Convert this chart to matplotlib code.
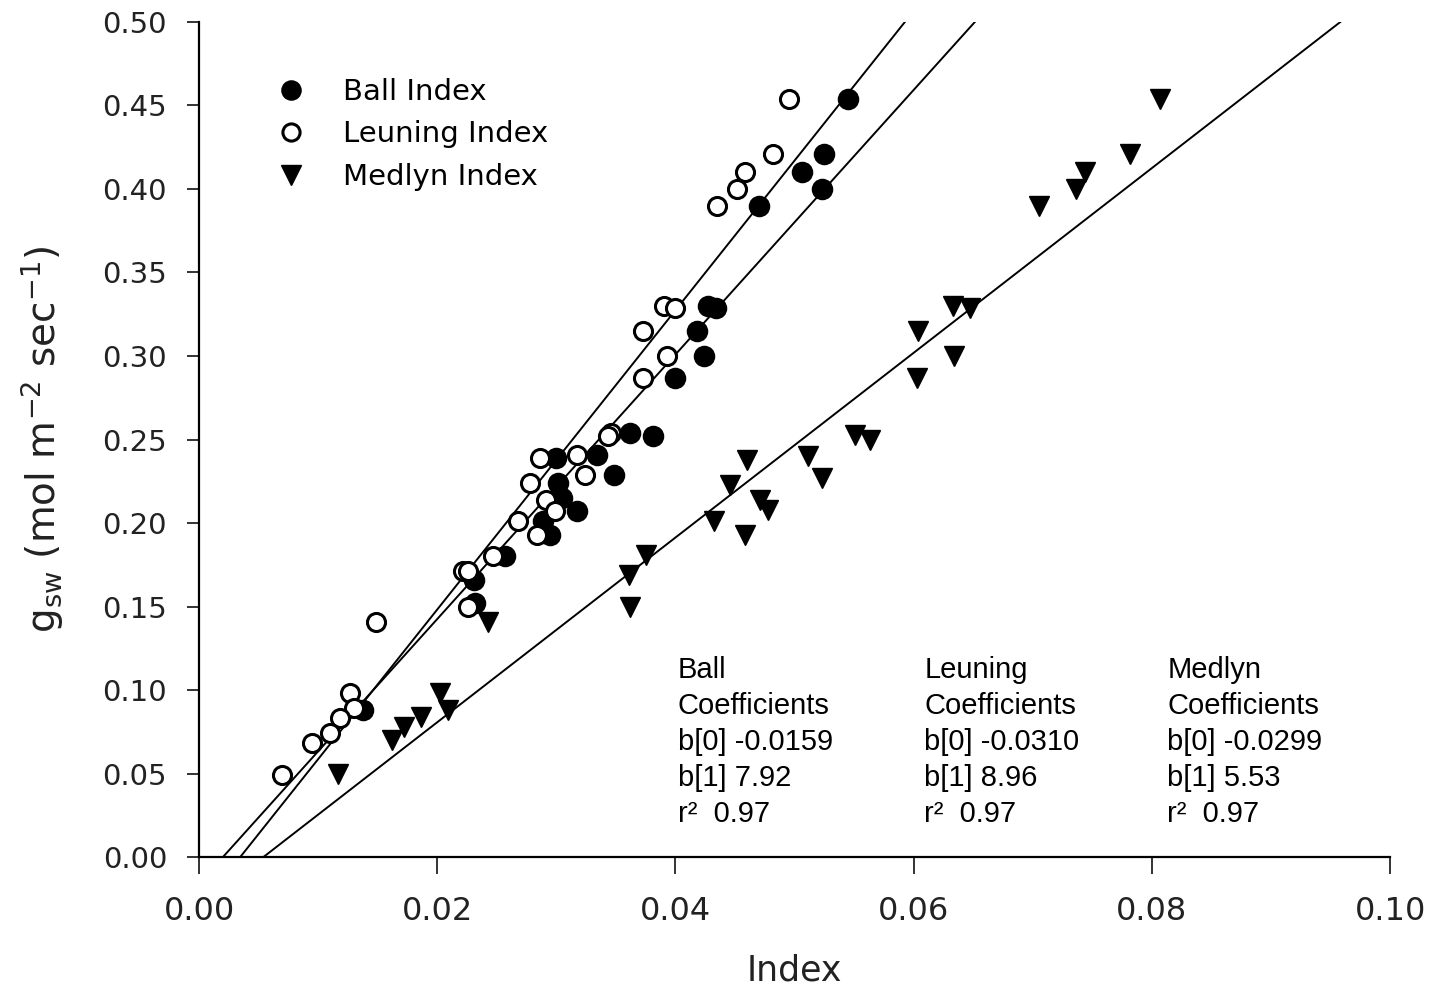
import numpy as np
import matplotlib
matplotlib.use("Agg")
import matplotlib.pyplot as plt
from matplotlib.ticker import FormatStrFormatter, MultipleLocator

# Stomatal conductance vs. the three model indices
ball_x = [0.0545, 0.0525, 0.0506, 0.0523, 0.0470, 0.0427, 0.0434, 0.0418, 0.0424, 0.0400,
          0.0362, 0.0381, 0.0334, 0.0300, 0.0348, 0.0301, 0.0305, 0.0317, 0.0289, 0.0295,
          0.0257, 0.0231, 0.0232, 0.0138]
ball_y = [0.454, 0.421, 0.410, 0.400, 0.390, 0.330, 0.329, 0.315, 0.300, 0.287,
          0.254, 0.252, 0.241, 0.239, 0.229, 0.224, 0.215, 0.207, 0.201, 0.193,
          0.180, 0.166, 0.152, 0.088]

leuning_x = [0.0495, 0.0482, 0.0458, 0.0452, 0.0435, 0.0390, 0.0400, 0.0373, 0.0393, 0.0373,
             0.0346, 0.0343, 0.0317, 0.0286, 0.0324, 0.0278, 0.0291, 0.0299, 0.0268, 0.0284,
             0.0247, 0.0222, 0.0226, 0.0226, 0.0149, 0.0127, 0.0130, 0.0118, 0.0110, 0.0095,
             0.0070]
leuning_y = [0.454, 0.421, 0.410, 0.400, 0.390, 0.330, 0.329, 0.315, 0.300, 0.287,
             0.254, 0.252, 0.241, 0.239, 0.229, 0.224, 0.214, 0.207, 0.201, 0.193,
             0.180, 0.171, 0.171, 0.150, 0.141, 0.098, 0.089, 0.083, 0.074, 0.068,
             0.049]

medlyn_x = [0.0807, 0.0782, 0.0744, 0.0736, 0.0705, 0.0633, 0.0647, 0.0604, 0.0634, 0.0603,
            0.0551, 0.0563, 0.0511, 0.0460, 0.0523, 0.0446, 0.0471, 0.0478, 0.0432, 0.0458,
            0.0375, 0.0361, 0.0362, 0.0243, 0.0202, 0.0209, 0.0186, 0.0172, 0.0162, 0.0117]
medlyn_y = [0.454, 0.421, 0.410, 0.400, 0.390, 0.330, 0.329, 0.315, 0.300, 0.287,
            0.253, 0.250, 0.240, 0.238, 0.227, 0.223, 0.214, 0.208, 0.201, 0.193,
            0.181, 0.169, 0.150, 0.141, 0.098, 0.088, 0.084, 0.078, 0.070, 0.050]

# Regression coefficients (b0, b1, r2)
models = ["Ball", "Leuning", "Medlyn"]
b0 = [-0.0159, -0.0310, -0.0299]
b1 = [7.92, 8.96, 5.53]
r2 = [0.97, 0.97, 0.97]

ymax = 0.50

fig = plt.figure(figsize=(14.39, 9.90), dpi=100)
ax = fig.add_axes([0.1383, 0.1343, 0.9660 - 0.1383, 0.9778 - 0.1343])

# fitted lines, from the x-intercept up to the top of the plot
for a, b in zip(b0, b1):
    x0 = -a / b
    x1 = (ymax - a) / b
    ax.plot([x0, x1], [a + b * x0, a + b * x1], color="black", lw=1.4, zorder=2)

ax.plot(ball_x, ball_y, "o", ms=14, mfc="black", mec="black", mew=1.5,
        label="Ball Index", zorder=3)
ax.plot(leuning_x, leuning_y, "o", ms=13, mfc="white", mec="black", mew=2.2,
        label="Leuning Index", zorder=4)
ax.plot(medlyn_x, medlyn_y, "v", ms=15, mfc="black", mec="black", mew=1.0,
        label="Medlyn Index", zorder=5)

ax.set_xlim(0, 0.10)
ax.set_ylim(0, ymax)
ax.xaxis.set_major_locator(MultipleLocator(0.02))
ax.yaxis.set_major_locator(MultipleLocator(0.05))
ax.xaxis.set_major_formatter(FormatStrFormatter("%.2f"))
ax.yaxis.set_major_formatter(FormatStrFormatter("%.2f"))

for side in ["top", "right"]:
    ax.spines[side].set_visible(False)
for side in ["left", "bottom"]:
    ax.spines[side].set_linewidth(1.6)

ax.tick_params(axis="both", direction="out", width=1.4, color="#333333",
               labelcolor="#222222")
ax.tick_params(axis="y", length=9, pad=14, labelsize=21)
ax.tick_params(axis="x", length=12, pad=16, labelsize=23)

ax.set_xlabel("Index", fontsize=25, color="#222222", labelpad=19)
ax.set_ylabel(r"g$_{\mathregular{sw}}$ (mol m$^{-2}$ sec$^{-1}$)", fontsize=28,
              color="#222222", labelpad=26)

ax.legend(loc="upper left", bbox_to_anchor=(0.055, 0.947), frameon=False,
          fontsize=21, handletextpad=1.3, labelspacing=0.5, borderaxespad=0,
          handlelength=1.0, markerscale=0.95)

# coefficient tables
text_x = [0.0402, 0.0609, 0.0813]
for name, x, a, b, r in zip(models, text_x, b0, b1, r2):
    block = (f"{name}\nCoefficients\nb[0] {a:.4f}\nb[1] {b:.2f}\n"
             f"r\u00b2  {r:.2f}")
    ax.text(x, 0.1205, block, fontsize=21, family="Liberation Sans",
            va="top", ha="left", linespacing=1.37)

fig.savefig("out.png", dpi=100)
